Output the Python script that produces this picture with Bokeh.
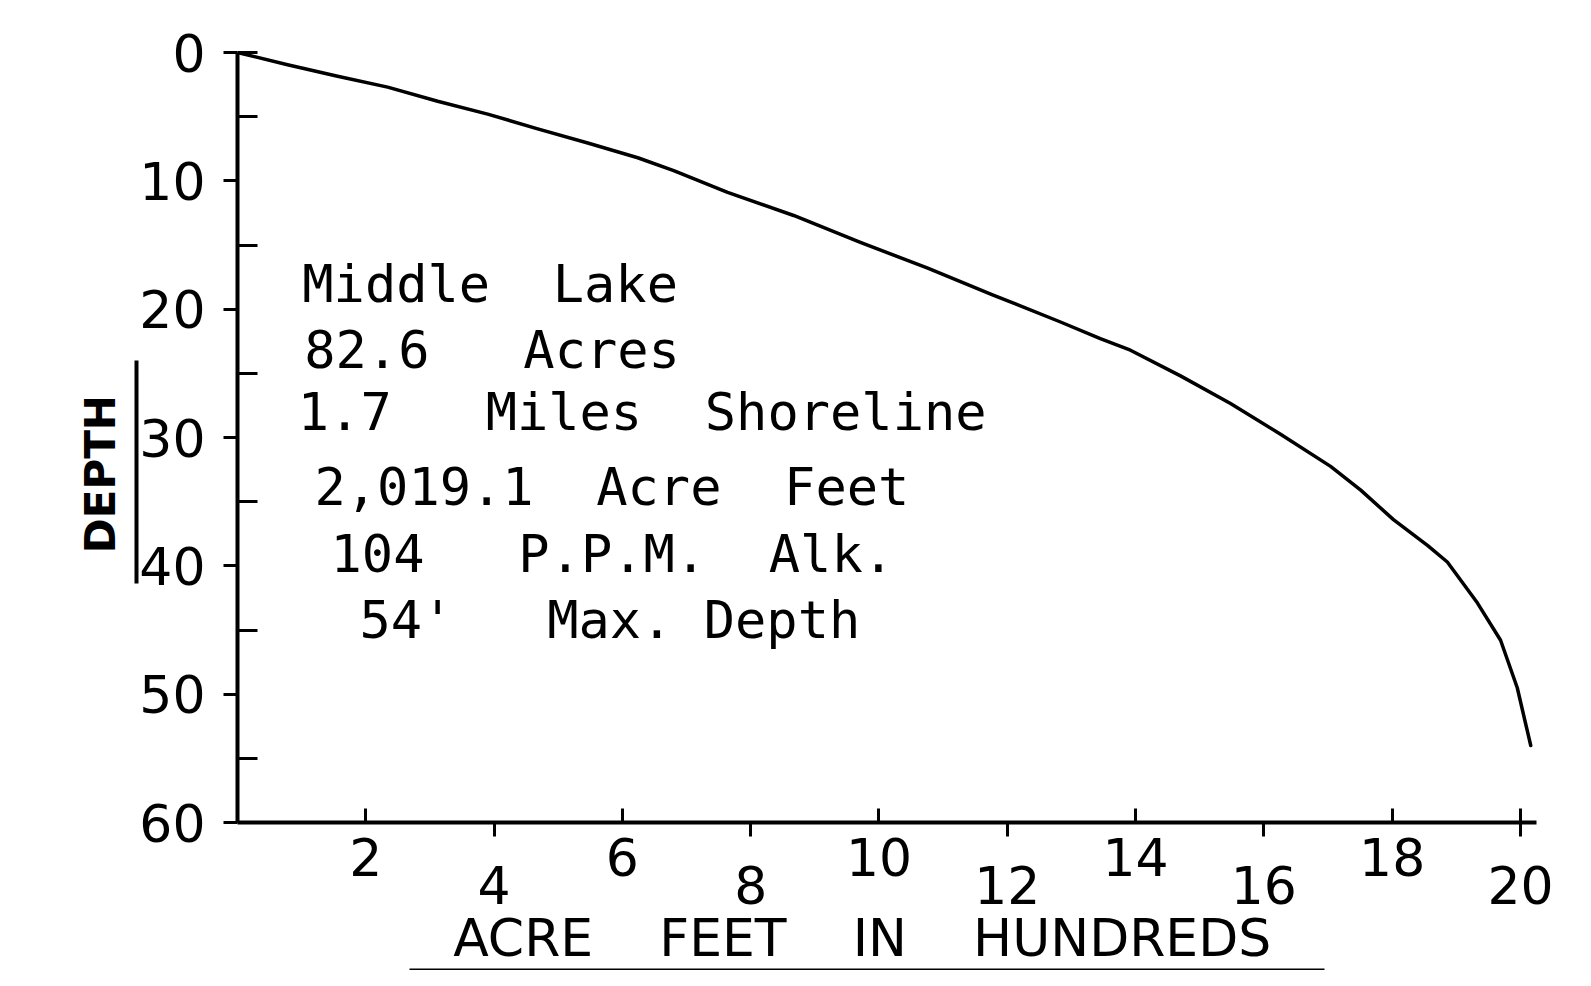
from bokeh.plotting import figure
from bokeh.models import LinearAxis, FixedTicker, Range1d, ColumnDataSource
from bokeh.embed import file_html
from bokeh.resources import INLINE
from bokeh.core.properties import value

# ---- data ----
acre_feet_hundreds = [0.0, 0.78, 1.56, 2.34, 3.12, 3.90, 4.68, 5.46, 6.24, 6.80,
                      7.64, 8.67, 9.71, 10.76, 11.78, 12.83, 13.45, 13.92, 14.70,
                      15.48, 16.26, 17.04, 17.51, 18.02, 18.55, 18.86, 19.33,
                      19.69, 19.95, 20.16]
depth_ft = [0.0, 0.95, 1.85, 2.7, 3.8, 4.8, 5.95, 7.05, 8.2, 9.2,
            10.9, 12.7, 14.8, 16.8, 18.9, 21.0, 22.3, 23.2, 25.2,
            27.35, 29.75, 32.25, 34.1, 36.4, 38.4, 39.7, 42.9,
            45.8, 49.5, 54.0]

y_major_ticks = [0, 10, 20, 30, 40, 50, 60]
y_minor_ticks = [0, 5, 15, 25, 35, 45, 55]
x_upper_ticks = [2, 6, 10, 14, 18, 20]
x_lower_ticks = [4, 8, 12, 16, 20]

NB = "\u00a0"
info_lines = ["Middle" + NB + " Lake",
              "82.6" + NB + NB + " Acres",
              "1.7" + NB + NB + " Miles" + NB + " Shoreline",
              "2,019.1" + NB + " Acre" + NB + " Feet",
              "104" + NB + NB + " P.P.M." + NB + " Alk.",
              "54'" + NB + NB + " Max. Depth"]
x_title = ("ACRE" + NB * 3 + " FEET" + NB * 3 + " IN" + NB * 3 + " HUNDREDS" + NB * 3)
y_title = "DEPTH" + NB * 5

# ---- layout (positions of the note block, in axis units) ----
info_x = [1.01, 1.04, 0.94, 1.2, 1.45, 1.9]
info_y = [18.05, 23.15, 28.05, 33.85, 39.05, 44.25]

FONT = "DejaVu Sans"
MONO = "DejaVu Sans Mono"

p = figure(frame_width=1299, frame_height=770,
           x_range=Range1d(0, 20.25), y_range=Range1d(60, 0),
           output_backend="svg", toolbar_location=None,
           x_axis_location=None, y_axis_location=None,
           min_border_left=237, min_border_top=52, min_border_right=20, min_border_bottom=0,
           outline_line_color=None, background_fill_color="white", border_fill_color="white")
for g in p.grid:
    g.visible = False

# y axis with ticks and numbers
yax = LinearAxis(ticker=FixedTicker(ticks=y_major_ticks, minor_ticks=y_minor_ticks),
                 axis_line_width=4, axis_line_color="black",
                 major_tick_out=14, major_tick_in=0, major_tick_line_width=3,
                 minor_tick_out=0, minor_tick_in=20, minor_tick_line_width=3,
                 major_label_standoff=18, major_label_text_font=FONT,
                 major_label_text_font_size="52px", major_label_text_color="black")
p.add_layout(yax, "left")

# outer left axis: only the underline + DEPTH title
dax = LinearAxis(ticker=FixedTicker(ticks=[]), bounds=(24, 41.4),
                 axis_line_width=4, axis_line_color="black",
                 major_tick_out=0, major_tick_in=0, minor_tick_out=0, minor_tick_in=0,
                 major_label_text_font_size="0px",
                 axis_label=y_title, axis_label_standoff=12, axis_label_text_font=FONT,
                 axis_label_text_font_size="42px", axis_label_text_font_style="bold",
                 axis_label_text_color="black")
p.add_layout(dax, "left")

# x axis: line, ticks (up at labelled upper row, down at lower row) and upper numbers
xax = LinearAxis(ticker=FixedTicker(ticks=x_upper_ticks, minor_ticks=x_lower_ticks),
                 axis_line_width=4, axis_line_color="black",
                 major_tick_in=14, major_tick_out=0, major_tick_line_width=3,
                 minor_tick_in=0, minor_tick_out=14, minor_tick_line_width=3,
                 major_label_overrides={20: ""},
                 major_label_standoff=1, major_label_text_font=FONT,
                 major_label_text_font_size="52px", major_label_text_color="black")
p.add_layout(xax, "below")

# second x axis: lower row of numbers + title
xax2 = LinearAxis(ticker=FixedTicker(ticks=x_lower_ticks, minor_ticks=[]),
                  axis_line_color=None, major_tick_in=0, major_tick_out=0,
                  minor_tick_in=0, minor_tick_out=0,
                  major_label_standoff=-13, major_label_text_font=FONT,
                  major_label_text_font_size="52px", major_label_text_color="black",
                  axis_label=x_title, axis_label_standoff=1,
                  axis_label_text_font=FONT, axis_label_text_font_size="52px",
                  axis_label_text_font_style="normal", axis_label_text_color="black")
p.add_layout(xax2, "below")

# underline of the x title
uax = LinearAxis(ticker=FixedTicker(ticks=[]), bounds=(2.68, 16.94),
                 axis_line_width=4, axis_line_color="black",
                 major_tick_out=0, major_tick_in=0, minor_tick_out=0, minor_tick_in=0,
                 major_label_text_font_size="0px")
p.add_layout(uax, "below")

# capacity curve
p.line(acre_feet_hundreds, depth_ft, line_width=3.5, line_color="black",
       line_join="round", line_cap="round")

# note block
info_src = ColumnDataSource(dict(x=info_x, y=info_y, t=info_lines))
p.text(x="x", y="y", text="t", source=info_src, text_font=value(MONO),
       text_font_size="52px", text_align="left", text_baseline="alphabetic",
       text_color="black")

open("out.html", "w").write(file_html(p, INLINE))
